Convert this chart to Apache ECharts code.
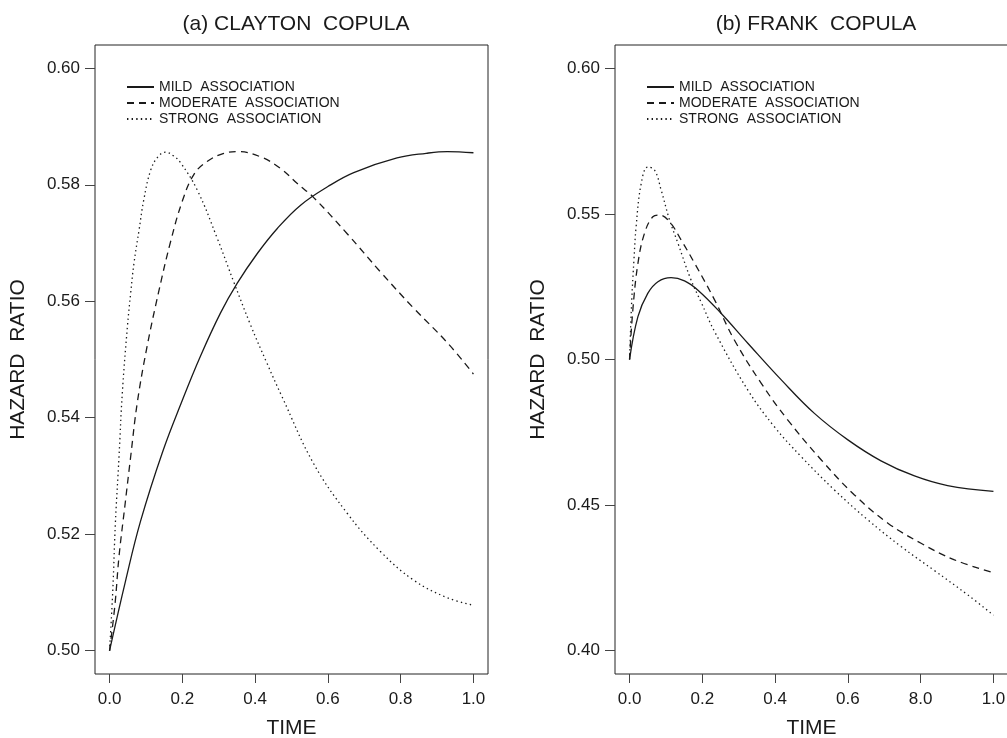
<!DOCTYPE html>
<html>
<head>
<meta charset="utf-8">
<title>Hazard ratio - Clayton and Frank copulas</title>
<script src="https://cdn.jsdelivr.net/npm/echarts@6/dist/echarts.min.js"></script>
<style>
  html, body { margin: 0; padding: 0; background: #fff; }
  #chart { width: 1007px; height: 738px; }
</style>
</head>
<body>
<div id="chart"></div>
<script>
// ticks and labels
const timeTicks = [0, 0.2, 0.4, 0.6, 0.8, 1.0];
const claytonTimeLabels = ['0.0', '0.2', '0.4', '0.6', '0.8', '1.0'];
const frankTimeLabels = ['0.0', '0.2', '0.4', '0.6', '8.0', '1.0']; // as printed in the figure
const claytonTicks = [0.50, 0.52, 0.54, 0.56, 0.58, 0.60];
const frankTicks = [0.40, 0.45, 0.50, 0.55, 0.60];
const seriesNames = ['MILD  ASSOCIATION', 'MODERATE  ASSOCIATION', 'STRONG  ASSOCIATION'];

// (a) Clayton copula, [time, hazard ratio]
const claytonMild = [[0, 0.5], [0.044, 0.5120], [0.085, 0.5222], [0.145, 0.5340], [0.200, 0.5430],
  [0.250, 0.5506], [0.305, 0.5580], [0.351, 0.5631], [0.406, 0.5682], [0.461, 0.5725], [0.525, 0.5765],
  [0.600, 0.5797], [0.671, 0.5821], [0.790, 0.5846], [0.870, 0.5854], [0.928, 0.5857], [1.0, 0.5855]];
const claytonModerate = [[0, 0.5], [0.015, 0.5080], [0.026, 0.5162], [0.042, 0.5248], [0.058, 0.5333],
  [0.076, 0.5425], [0.103, 0.5522], [0.136, 0.5619], [0.168, 0.5703], [0.200, 0.5772], [0.232, 0.5818],
  [0.268, 0.5840], [0.314, 0.5854], [0.351, 0.5857], [0.415, 0.5848], [0.470, 0.5828], [0.516, 0.5802],
  [0.561, 0.5778], [0.653, 0.5716], [0.745, 0.5650], [0.836, 0.5588], [0.928, 0.5529], [1.0, 0.5475]];
const claytonStrong = [[0, 0.5], [0.009, 0.5105], [0.016, 0.5219], [0.026, 0.5333], [0.035, 0.5442],
  [0.049, 0.5556], [0.058, 0.5614], [0.067, 0.5665], [0.081, 0.5722], [0.094, 0.5774], [0.113, 0.5825],
  [0.133, 0.5848], [0.154, 0.5856], [0.175, 0.5850], [0.195, 0.5838], [0.241, 0.5791], [0.296, 0.5708],
  [0.342, 0.5632], [0.387, 0.5560], [0.433, 0.5493], [0.474, 0.5436], [0.561, 0.5321], [0.653, 0.5236],
  [0.745, 0.5170], [0.836, 0.5121], [0.928, 0.5091], [1.0, 0.5078]];

// (b) Frank copula
const frankMild = [[0, 0.5], [0.023, 0.5147], [0.050, 0.5227], [0.078, 0.5267], [0.114, 0.5281],
  [0.151, 0.5270], [0.188, 0.5238], [0.252, 0.5158], [0.325, 0.5056], [0.417, 0.4930], [0.508, 0.4815],
  [0.600, 0.4724], [0.691, 0.4652], [0.783, 0.4600], [0.874, 0.4567], [1.0, 0.4547]];
const frankModerate = [[0, 0.5], [0.009, 0.5170], [0.023, 0.5330], [0.041, 0.5433], [0.064, 0.5490],
  [0.082, 0.5496], [0.110, 0.5473], [0.142, 0.5410], [0.179, 0.5330], [0.234, 0.5204], [0.288, 0.5067],
  [0.362, 0.4918], [0.435, 0.4792], [0.527, 0.4655], [0.618, 0.4535], [0.710, 0.4438], [0.801, 0.4369],
  [0.893, 0.4312], [1.0, 0.4268]];
const frankStrong = [[0, 0.5], [0.006, 0.5204], [0.012, 0.5341], [0.018, 0.5456], [0.032, 0.5604],
  [0.050, 0.5661], [0.069, 0.5650], [0.087, 0.5581], [0.110, 0.5479], [0.133, 0.5399], [0.169, 0.5273],
  [0.197, 0.5196], [0.234, 0.5095], [0.325, 0.4895], [0.398, 0.4769], [0.472, 0.4666], [0.563, 0.4552],
  [0.655, 0.4449], [0.746, 0.4358], [0.838, 0.4275], [0.929, 0.4192], [1.0, 0.4122]];

const font = "'Liberation Sans', Arial, Helvetica, sans-serif";
const ink = '#1a1a1a';
const lineTypes = ['solid', [7, 5], [1.4, 3.2]];

function xAxis(gridIndex, labels) {
  return {
    type: 'value', gridIndex: gridIndex,
    min: -0.04, max: 1.04,
    name: 'TIME', nameLocation: 'middle', nameGap: 44,
    nameTextStyle: { fontFamily: font, fontSize: 21, color: ink },
    axisLine: { show: false, onZero: false },
    axisTick: { show: true, length: 9, customValues: timeTicks, lineStyle: { color: '#444' } },
    axisLabel: {
      customValues: timeTicks, margin: 17, fontFamily: font, fontSize: 17, color: ink,
      formatter: v => labels[timeTicks.findIndex(t => Math.abs(t - v) < 1e-6)]
    },
    splitLine: { show: false }
  };
}

function yAxis(gridIndex, ticks, lo, hi) {
  const pad = (hi - lo) * 0.04;
  return {
    type: 'value', gridIndex: gridIndex,
    min: lo - pad, max: hi + pad,
    name: 'HAZARD  RATIO', nameLocation: 'middle', nameGap: 66,
    nameTextStyle: { fontFamily: font, fontSize: 21, color: ink },
    axisLine: { show: false, onZero: false },
    axisTick: { show: true, length: 10, customValues: ticks, lineStyle: { color: '#444' } },
    axisLabel: {
      customValues: ticks, margin: 15, fontFamily: font, fontSize: 17, color: ink,
      formatter: v => v.toFixed(2)
    },
    splitLine: { show: false }
  };
}

function lines(idx, data) {
  return data.map((d, i) => ({
    name: seriesNames[i], type: 'line', xAxisIndex: idx, yAxisIndex: idx,
    data: d, symbol: 'none', smooth: 0.4,
    itemStyle: { color: 'rgba(0,0,0,0)' },
    lineStyle: { color: ink, width: 1.3, type: lineTypes[i] },
    emphasis: { disabled: true }
  }));
}

function legend(left) {
  return {
    left: left, top: 75, orient: 'vertical', itemWidth: 27, itemHeight: 12, itemGap: 2,
    data: seriesNames, selectedMode: false,
    itemStyle: { opacity: 0 },
    textStyle: { fontFamily: font, fontSize: 14, color: ink }
  };
}

const chart = echarts.init(document.getElementById('chart'), null, { renderer: 'canvas' });
chart.setOption({
  animation: false,
  backgroundColor: '#fff',
  title: [
    { text: '(a) CLAYTON  COPULA', left: 291, top: 9, textAlign: 'center',
      textStyle: { fontFamily: font, fontSize: 21, fontWeight: 'normal', color: ink } },
    { text: '(b) FRANK  COPULA', left: 811, top: 9, textAlign: 'center',
      textStyle: { fontFamily: font, fontSize: 21, fontWeight: 'normal', color: ink } }
  ],
  legend: [legend(121), legend(641)],
  grid: [
    { left: 95, top: 45, width: 393, height: 629, outerBoundsMode: 'none',
      show: true, borderColor: '#222', borderWidth: 1 },
    { left: 615, top: 45, width: 393, height: 629, outerBoundsMode: 'none',
      show: true, borderColor: '#222', borderWidth: 1 }
  ],
  xAxis: [xAxis(0, claytonTimeLabels), xAxis(1, frankTimeLabels)],
  yAxis: [yAxis(0, claytonTicks, 0.50, 0.60), yAxis(1, frankTicks, 0.40, 0.60)],
  series: [].concat(
    lines(0, [claytonMild, claytonModerate, claytonStrong]),
    lines(1, [frankMild, frankModerate, frankStrong])
  )
});
</script>
</body>
</html>
